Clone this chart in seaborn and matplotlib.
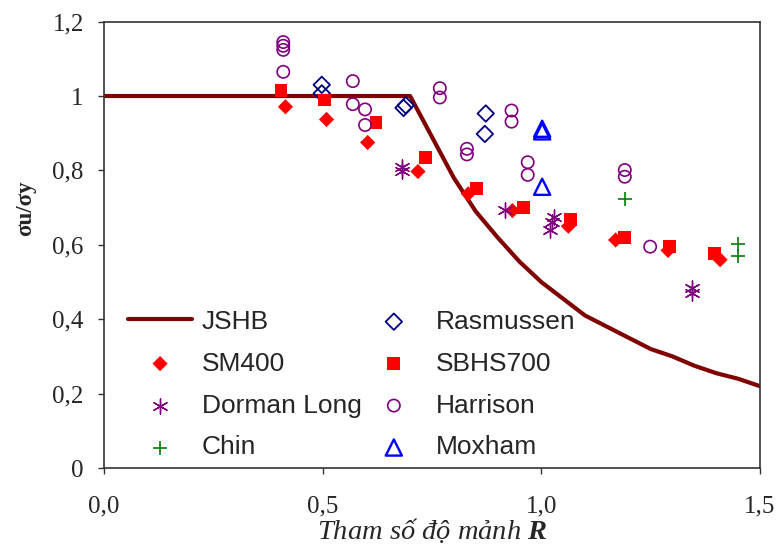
import matplotlib
matplotlib.use("Agg")
import matplotlib.pyplot as plt
import pandas as pd
import seaborn as sns

# JSHB design curve
jshb_r = [0.0, 0.70, 0.75, 0.80, 0.85, 0.90, 0.95, 1.00, 1.05, 1.10, 1.15, 1.20, 1.25, 1.30, 1.35, 1.40, 1.45, 1.50]
jshb_y = [1.0, 1.0, 0.89, 0.78, 0.69, 0.62, 0.555, 0.50, 0.455, 0.41, 0.38, 0.35, 0.32, 0.30, 0.275, 0.255, 0.24, 0.22]

sm400_r = [0.415, 0.509, 0.603, 0.718, 0.833, 0.934, 1.062, 1.170, 1.290, 1.409]
sm400_y = [0.971, 0.937, 0.875, 0.797, 0.737, 0.692, 0.650, 0.613, 0.585, 0.560]

sbhs_r = [0.405, 0.505, 0.622, 0.736, 0.852, 0.959, 1.066, 1.191, 1.294, 1.397]
sbhs_y = [1.014, 0.989, 0.928, 0.835, 0.752, 0.701, 0.669, 0.620, 0.595, 0.577]

rasmussen_r = [0.498, 0.498, 0.685, 0.690, 0.873, 0.871]
rasmussen_y = [1.030, 1.007, 0.968, 0.975, 0.953, 0.898]

dorman_r = [0.681, 0.681, 0.916, 1.028, 1.025, 1.021, 1.344, 1.344]
dorman_y = [0.810, 0.798, 0.694, 0.675, 0.660, 0.640, 0.485, 0.470]

harrison_r = [0.41, 0.41, 0.41, 0.41, 0.569, 0.569, 0.597, 0.597, 0.768, 0.768,
              0.830, 0.830, 0.932, 0.932, 0.969, 0.969, 1.191, 1.191, 1.249]
harrison_y = [1.145, 1.135, 1.124, 1.065, 1.040, 0.978, 0.964, 0.922, 1.021, 0.996,
              0.858, 0.843, 0.961, 0.931, 0.822, 0.788, 0.801, 0.783, 0.595]

chin_r = [1.191, 1.450, 1.450]
chin_y = [0.722, 0.603, 0.569]

moxham_r = [1.002, 1.002, 1.002]
moxham_y = [0.905, 0.912, 0.756]

x_ticks = [0.0, 0.5, 1.0, 1.5]
x_ticklabels = ["0,0", "0,5", "1,0", "1,5"]
y_ticks = [0, 0.2, 0.4, 0.6, 0.8, 1.0, 1.2]
y_ticklabels = ["0", "0,2", "0,4", "0,6", "0,8", "1", "1,2"]

sns.set_style("ticks")
plt.rcParams["font.family"] = ["Liberation Serif", "DejaVu Serif"]
plt.rcParams["mathtext.fontset"] = "custom"
plt.rcParams["mathtext.rm"] = "Liberation Serif"
plt.rcParams["mathtext.it"] = "Liberation Serif:italic"
plt.rcParams["mathtext.bf"] = "Liberation Serif:bold"
plt.rcParams["mathtext.bfit"] = "Liberation Serif:italic:bold"

fig = plt.figure(figsize=(7.79, 5.51), dpi=100)
ax = fig.add_axes([0.1335, 0.1506, 0.842, 0.8102])

jshb = pd.DataFrame({"R": jshb_r, "ratio": jshb_y})
sns.lineplot(data=jshb, x="R", y="ratio", color="#800000", linewidth=3, label="JSHB", ax=ax, zorder=2)

series = [
    # name, r, y, marker, color, size, open, lw
    ("SM400", sm400_r, sm400_y, "D", "#ff0000", 60, False, 0),
    ("Dorman Long", dorman_r, dorman_y, (6, 2, 0), "#800080", 115, False, 1.0),
    ("Chin", chin_r, chin_y, "+", "#008000", 115, False, 1.2),
    ("Rasmussen", rasmussen_r, rasmussen_y, "D", "#000080", 70, True, 1.3),
    ("SBHS700", sbhs_r, sbhs_y, "s", "#ff0000", 85, False, 0),
    ("Harrison", harrison_r, harrison_y, "o", "#800080", 78, True, 1.2),
    ("Moxham", moxham_r, moxham_y, "^", "#0000ff", 135, True, 1.7),
]

for name, xs, ys, marker, col, size, hollow, lw in series:
    df = pd.DataFrame({"R": xs, "ratio": ys})
    kw = dict(marker=marker, s=size, color=col, linewidth=lw, label=name, ax=ax, zorder=3)
    if hollow:
        kw["facecolor"] = "none"
        kw["edgecolor"] = col
    elif lw == 0:
        kw["edgecolor"] = "none"
    else:
        kw["edgecolor"] = col
    sns.scatterplot(data=df, x="R", y="ratio", **kw)

ax.set_xlim(0, 1.5)
ax.set_ylim(0, 1.2)
ax.set_xticks(x_ticks)
ax.set_xticklabels(x_ticklabels)
ax.set_yticks(y_ticks)
ax.set_yticklabels(y_ticklabels)
ax.tick_params(axis="both", labelsize=18, length=4.5, width=1, color="#333333")
ax.tick_params(axis="x", pad=15)
ax.tick_params(axis="y", pad=10)
for sp in ax.spines.values():
    sp.set_visible(True)
    sp.set_color("#333333")
    sp.set_linewidth(1.2)

ax.set_xlabel(r"Tham số độ mảnh $\mathbfit{R}$", fontsize=20.5, fontstyle="italic")
ax.set_ylabel("σu/σy", fontsize=16.5, fontweight="bold")
ax.xaxis.set_label_coords(0.5, -0.108)
ax.yaxis.set_label_coords(-0.104, 0.582)

handles, labels = ax.get_legend_handles_labels()
order = ["JSHB", "SM400", "Dorman Long", "Chin", "Rasmussen", "SBHS700", "Harrison", "Moxham"]
hmap = dict(zip(labels, handles))
leg = ax.legend([hmap[k] for k in order], order, loc="lower left", bbox_to_anchor=(0.0, -0.034),
                ncol=2, frameon=False, handlelength=2.45, handletextpad=0.35, columnspacing=0.0,
                labelspacing=0.68, prop={"family": "Liberation Sans", "size": 19})

fig.savefig("out.png", dpi=100)
